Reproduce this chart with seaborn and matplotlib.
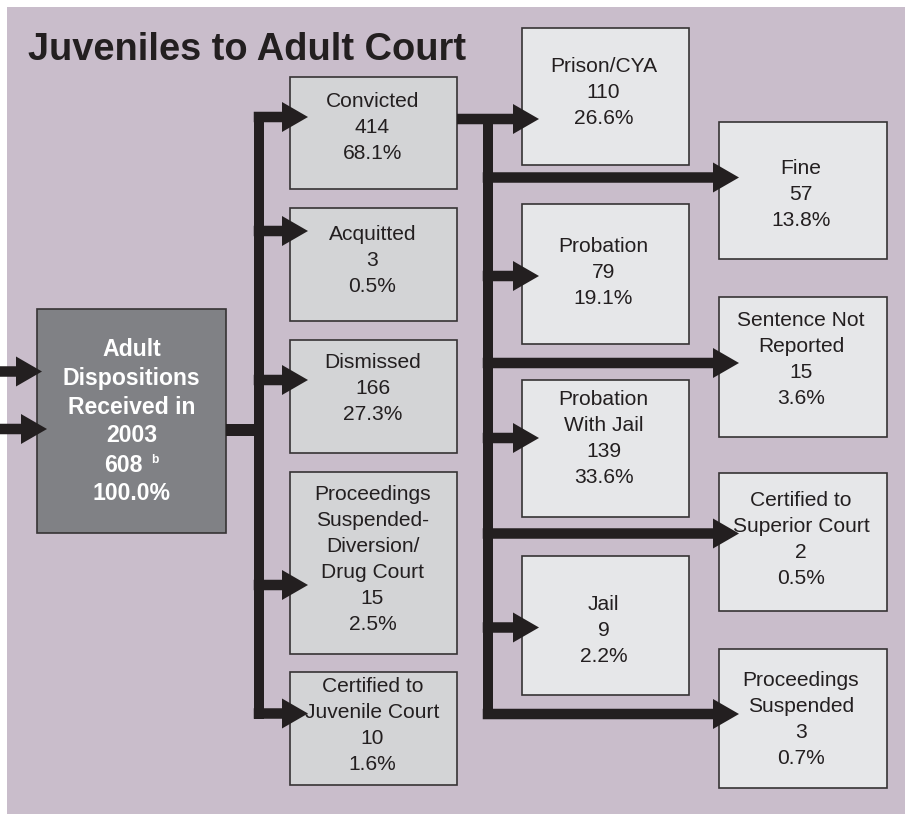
import matplotlib
matplotlib.use("Agg")
import matplotlib.pyplot as plt
from matplotlib.patches import Rectangle, Polygon
import seaborn as sns

# ---------------- data ----------------
title = "Juveniles to Adult Court"
root_label = ["Adult", "Dispositions", "Received in", "2003"]
root_count = 608
root_note = "b"
root_pct = 100.0

disposition_labels = ["Convicted", "Acquitted", "Dismissed",
                      "Proceedings\nSuspended-\nDiversion/\nDrug Court",
                      "Certified to\nJuvenile Court"]
disposition_counts = [414, 3, 166, 15, 10]
disposition_pcts = [68.1, 0.5, 27.3, 2.5, 1.6]

sentence_labels = ["Prison/CYA", "Fine", "Probation", "Sentence Not\nReported",
                   "Probation\nWith Jail", "Certified to\nSuperior Court",
                   "Jail", "Proceedings\nSuspended"]
sentence_counts = [110, 57, 79, 15, 139, 2, 9, 3]
sentence_pcts = [26.6, 13.8, 19.1, 3.6, 33.6, 0.5, 2.2, 0.7]

# ---------------- layout (pixels) ----------------
W, H = 905, 814
PANEL = "#C9BDCB"
MID_FC = "#D3D4D6"
RIGHT_FC = "#E6E7E9"
ROOT_FC = "#808185"
INK = "#231F20"
EDGE = "#363334"

root_box = (37, 309, 226, 533)
root_text_cy, root_spacing = 421.5, 29

mid_x = (290, 457)
mid_boxes_y = [(77, 189), (208, 321), (340, 453), (472, 654), (672, 785)]
mid_text_cy = [127.5, 260.5, 389, 559, 725.5]
mid_arrow_y = [117, 231, 380, 585, 713.5]

col_x = {1: (522, 689), 2: (719, 887)}
sent_col = [1, 2, 1, 2, 1, 2, 1, 2]
sent_boxes_y = [(28, 165), (122, 259), (204, 344), (297, 437),
                (380, 517), (473, 611), (556, 695), (649, 788)]
sent_text_cy = [93, 194.5, 273, 360, 438.5, 540, 630.5, 719.5]
sent_arrow_y = [119, 177.5, 276, 363, 438, 533.5, 627.5, 714]
sent_tip = {1: 539, 2: 739}

bus1_x, bus2_x = 259, 488
SHAFT, HEAD_W, HEAD_L = 10.5, 30, 26
SPACING = 26

sns.set_theme(style="white")
plt.rcParams["font.family"] = ["Liberation Sans", "DejaVu Sans"]

fig = plt.figure(figsize=(W / 100, H / 100), dpi=100)
fig.patch.set_facecolor("white")
ax = fig.add_axes([0, 0, 1, 1])
ax.set_xlim(0, W)
ax.set_ylim(H, 0)
ax.axis("off")

PT = 0.72  # px -> pt at 100 dpi

ax.add_patch(Rectangle((7, 7), W - 7, H - 7, facecolor=PANEL, edgecolor="none", zorder=0))


def arrow(x0, y, xtip, z=3):
    hs = SHAFT / 2
    hb = xtip - HEAD_L
    pts = [(x0, y - hs), (hb, y - hs), (hb, y - HEAD_W / 2), (xtip, y),
           (hb, y + HEAD_W / 2), (hb, y + hs), (x0, y + hs)]
    ax.add_patch(Polygon(pts, closed=True, facecolor=INK, edgecolor="none", zorder=z))


def hbar(x0, x1, y, t=SHAFT):
    ax.add_patch(Rectangle((x0, y - t / 2), x1 - x0, t, facecolor=INK, edgecolor="none", zorder=3))


def vbar(x, y0, y1, t=SHAFT):
    ax.add_patch(Rectangle((x - t / 2, y0), t, y1 - y0, facecolor=INK, edgecolor="none", zorder=3))


def box(x0, y0, x1, y1, fc):
    ax.add_patch(Rectangle((x0, y0), x1 - x0, y1 - y0, facecolor=fc,
                           edgecolor=EDGE, linewidth=1.2, zorder=2))


def lines_text(cx, cy, lines, size, spacing, color=INK, weight="normal"):
    n = len(lines)
    for i, s in enumerate(lines):
        y = cy + (i - (n - 1) / 2) * spacing
        ax.text(cx, y, s, ha="center", va="center", fontsize=size, color=color,
                fontweight=weight, zorder=5)


# title
ax.text(28, 60, title, ha="left", va="baseline", fontsize=38 * PT,
        fontweight="bold", color=INK, zorder=5)

# root box
box(*root_box, ROOT_FC)
rcx = (root_box[0] + root_box[2]) / 2
n_root = len(root_label) + 2
ys = [root_text_cy + (i - (n_root - 1) / 2) * root_spacing for i in range(n_root)]
for s, y in zip(root_label, ys):
    ax.text(rcx, y, s, ha="center", va="center", fontsize=23 * PT,
            fontweight="bold", color="white", zorder=5)
ax.text(rcx + 11, ys[4], f"{root_count}", ha="right", va="center", fontsize=23 * PT,
        fontweight="bold", color="white", zorder=5)
ax.text(rcx + 20, ys[4] - 5, root_note, ha="left", va="center", fontsize=12 * PT,
        fontweight="bold", color="white", zorder=5)
ax.text(rcx, ys[5], f"{root_pct:.1f}%", ha="center", va="center", fontsize=23 * PT,
        fontweight="bold", color="white", zorder=5)

# incoming arrows
arrow(0, 371.5, 42)
arrow(0, 429, 47)

# root -> bus1
hbar(root_box[2], bus1_x, 430, 12)
vbar(bus1_x, mid_arrow_y[0] - SHAFT / 2, mid_arrow_y[-1] + SHAFT / 2)

# middle boxes
for lab, cnt, pct, (y0, y1), tcy, ay in zip(disposition_labels, disposition_counts,
                                             disposition_pcts, mid_boxes_y,
                                             mid_text_cy, mid_arrow_y):
    box(mid_x[0], y0, mid_x[1], y1, MID_FC)
    lines_text((mid_x[0] + mid_x[1]) / 2 - 1, tcy,
               lab.split("\n") + [f"{cnt}", f"{pct:.1f}%"], 21 * PT, SPACING)
    arrow(bus1_x - SHAFT / 2, ay, 308)

# convicted -> bus2
vbar(bus2_x, sent_arrow_y[0] - SHAFT / 2, sent_arrow_y[-1] + SHAFT / 2)

for i, (lab, cnt, pct, col, (y0, y1), tcy, ay) in enumerate(zip(
        sentence_labels, sentence_counts, sentence_pcts, sent_col,
        sent_boxes_y, sent_text_cy, sent_arrow_y)):
    x0, x1 = col_x[col]
    box(x0, y0, x1, y1, RIGHT_FC)
    lines_text((x0 + x1) / 2 - 2, tcy,
               lab.split("\n") + [f"{cnt}", f"{pct:.1f}%"], 21 * PT, SPACING)
    start = mid_x[1] if i == 0 else bus2_x - SHAFT / 2
    arrow(start, ay, sent_tip[col], z=6)

fig.savefig("out.png", dpi=100, facecolor="white")
